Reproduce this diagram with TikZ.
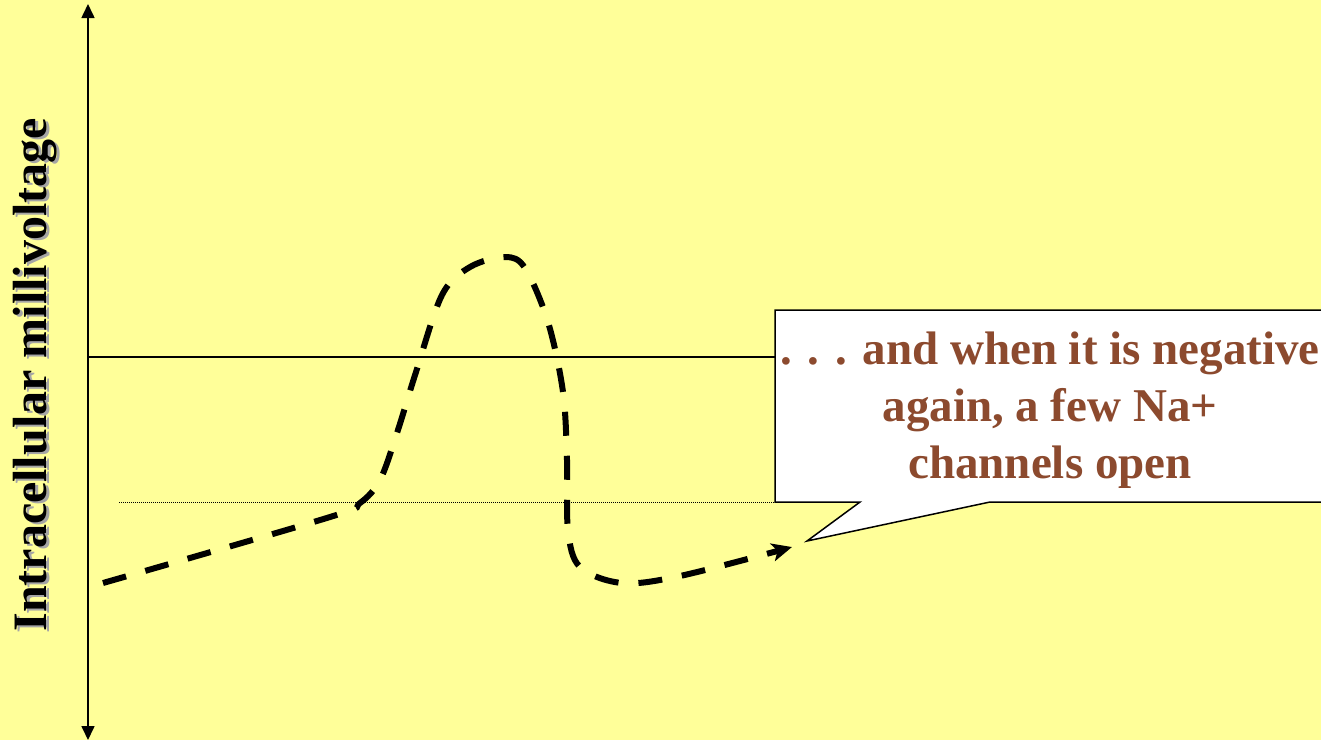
\documentclass[tikz,border=0pt]{standalone}
\usepackage{fontspec}
\setmainfont{Liberation Serif}
\usetikzlibrary{arrows.meta}
\definecolor{bg}{RGB}{255,255,153}
\definecolor{txt}{RGB}{140,74,46}
\definecolor{shadow}{RGB}{165,165,165}
\tikzset{
  axisline/.style={line width=1.6pt, {Triangle[length=14pt,width=13pt]}-{Triangle[length=14pt,width=13pt]}},
  zeroline/.style={line width=1.3pt},
  threshline/.style={line width=0.6pt, dash pattern=on 1pt off 1pt},
  trace/.style={line width=6pt, dash pattern=on 24pt off 20pt, -{Stealth[length=20pt,width=18pt,inset=5pt]}},
  calloutbox/.style={fill=white, draw=black, line width=1.5pt},
  callouttext/.style={text=txt, align=center, font=\fontsize{47}{57}\selectfont\bfseries},
  ylabel/.style={rotate=90, font=\fontsize{48}{56}\selectfont\bfseries}
}
\begin{document}
\begin{tikzpicture}[x=1pt,y=-1pt]
\fill[bg] (0,0) rectangle (1321,740);
\useasboundingbox (0,0) rectangle (1321,740);
% axis
\coordinate (top) at (88,4);
\coordinate (bot) at (88,740);
\draw[axisline] (bot) -- (top);
\coordinate (z0) at (88,357);
\coordinate (z1) at (776,357);
\draw[zeroline] (z0) -- (z1);
\coordinate (t0) at (119,502);
\coordinate (t1) at (776,502);
\draw[threshline] (t0) -- (t1);
% y label with shadow
\node[ylabel, text=shadow] (ylabs) at (38,377) {Intracellular millivoltage};
\node[ylabel] (ylab) at (35,375) {Intracellular millivoltage};
% trace
\draw[trace] plot[smooth, tension=0.55] coordinates {(103,583) (330,517) (360,503) (380,480) (397,433) (416,372) (442,295) (470,267) (505,257) (525,268) (548,322) (563,392) (567,460) (568,530) (580,567) (622,583) (680,576) (792,547)};
% callout
\coordinate (tip) at (807,541);
\draw[calloutbox] (775,310) -- (1330,310) -- (1330,502) -- (990,502) -- (tip) -- (860,502) -- (775,502) -- cycle;
\node[callouttext] (msg) at (1050,410) {. . . and when it is negative\\again, a few Na+\\channels open};
\end{tikzpicture}
\end{document}
